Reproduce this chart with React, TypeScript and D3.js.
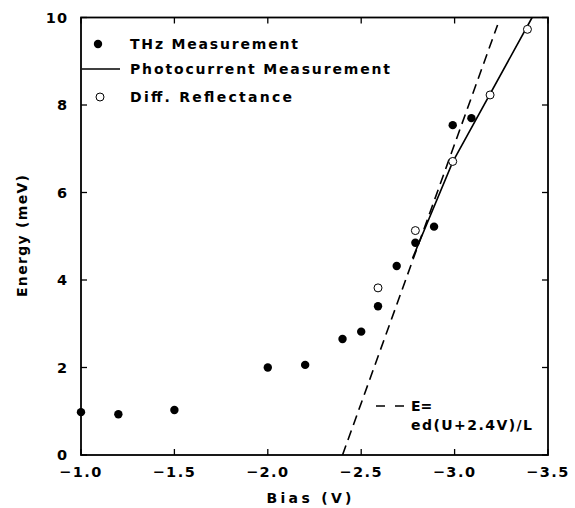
import React from "react";
import * as d3 from "d3";

// THz measurement (filled dots)
const thzBias = [-1.0, -1.2, -1.5, -2.0, -2.2, -2.4, -2.5, -2.59, -2.69, -2.79, -2.89, -2.99, -3.09];
const thzEnergy = [0.98, 0.93, 1.03, 2.0, 2.06, 2.65, 2.82, 3.4, 4.32, 4.85, 5.22, 7.54, 7.7];

// Differential reflectance (open circles)
const drBias = [-2.59, -2.79, -2.99, -3.19, -3.39];
const drEnergy = [3.82, 5.13, 6.71, 8.23, 9.73];

// Photocurrent measurement (solid line)
const pcBias = [-2.775, -2.99, -3.415];
const pcEnergy = [4.5, 6.7, 10.0];

// Linear fit E = ed(U+2.4V)/L (dashed line)
const fitBias = [-2.4, -3.23];
const fitEnergy = [0.0, 9.83];

const xTicks = [-1.0, -1.5, -2.0, -2.5, -3.0, -3.5];
const yTicks = [0, 2, 4, 6, 8, 10];

const FONT = "'DejaVu Sans', 'Liberation Sans', Arial, sans-serif";

export default function App() {
  const W = 575, H = 508;
  const x0 = 81, x1 = 548, yTop = 17.5, yBot = 455;
  const x = d3.scaleLinear().domain([-1, -3.5]).range([x0, x1]);
  const y = d3.scaleLinear().domain([0, 10]).range([yBot, yTop]);

  const line = d3.line<[number, number]>().x(d => x(d[0])).y(d => y(d[1]));
  const pc = line(pcBias.map((b, i) => [b, pcEnergy[i]] as [number, number])) || "";
  const fit = line(fitBias.map((b, i) => [b, fitEnergy[i]] as [number, number])) || "";

  const tickLen = 6;
  const textStyle = { fontFamily: FONT, fontWeight: 700, fill: "#000" } as const;

  return (
    <svg width={W} height={H} style={{ position: "absolute", left: 0, top: 0, background: "#fff" }}>
      <rect x={0} y={0} width={W} height={H} fill="#fff" />
      <defs>
        <clipPath id="plotclip">
          <rect x={x0} y={yTop} width={x1 - x0} height={yBot - yTop} />
        </clipPath>
      </defs>

      {/* frame */}
      <rect x={x0} y={yTop} width={x1 - x0} height={yBot - yTop} fill="none" stroke="#000" strokeWidth={1.8} />

      {/* x ticks */}
      {xTicks.map(t => (
        <g key={"xt" + t}>
          <line x1={x(t)} x2={x(t)} y1={yBot} y2={yBot - tickLen} stroke="#000" strokeWidth={1.3} />
          <line x1={x(t)} x2={x(t)} y1={yTop} y2={yTop + tickLen} stroke="#000" strokeWidth={1.3} />
          <text x={x(t)} y={477} textAnchor="middle" fontSize={14.5} letterSpacing={1.5} style={textStyle}>
            {"\u2212" + Math.abs(t).toFixed(1)}
          </text>
        </g>
      ))}

      {/* y ticks */}
      {yTicks.map(t => (
        <g key={"yt" + t}>
          <line x1={x0} x2={x0 + tickLen} y1={y(t)} y2={y(t)} stroke="#000" strokeWidth={1.3} />
          <line x1={x1} x2={x1 - tickLen} y1={y(t)} y2={y(t)} stroke="#000" strokeWidth={1.3} />
          <text x={68} y={y(t) + 5} textAnchor="end" fontSize={14.5} letterSpacing={1} style={textStyle}>
            {t}
          </text>
        </g>
      ))}

      {/* axis titles */}
      <text x={309} y={503} textAnchor="middle" fontSize={14} textLength={85} lengthAdjust="spacing" style={textStyle}>
        Bias (V)
      </text>
      <text
        transform={`translate(27,236) rotate(-90)`}
        textAnchor="middle"
        fontSize={14}
        textLength={122}
        lengthAdjust="spacing"
        style={textStyle}
      >
        Energy (meV)
      </text>

      <g clipPath="url(#plotclip)">
        {/* fit dashed */}
        <path d={fit} fill="none" stroke="#000" strokeWidth={1.6} strokeDasharray="10,6" />
        {/* photocurrent */}
        <path d={pc} fill="none" stroke="#000" strokeWidth={1.6} />
      </g>
      {/* THz */}
      {thzBias.map((b, i) => (
        <circle key={"t" + i} cx={x(b)} cy={y(thzEnergy[i])} r={4.2} fill="#000" />
      ))}
      {/* DR */}
      {drBias.map((b, i) => (
        <circle key={"d" + i} cx={x(b)} cy={y(drEnergy[i])} r={4} fill="#fff" stroke="#000" strokeWidth={1} />
      ))}

      {/* legend */}
      <circle cx={98} cy={44} r={4.2} fill="#000" />
      <text x={130} y={49} fontSize={14} textLength={168} lengthAdjust="spacing" style={textStyle}>
        THz Measurement
      </text>
      <line x1={82} x2={120} y1={69} y2={69} stroke="#000" strokeWidth={1.4} />
      <text x={130} y={74} fontSize={14} textLength={260} lengthAdjust="spacing" style={textStyle}>
        Photocurrent Measurement
      </text>
      <circle cx={100} cy={97} r={4} fill="#fff" stroke="#000" strokeWidth={1} />
      <text x={130} y={102} fontSize={14} textLength={162} lengthAdjust="spacing" style={textStyle}>
        Diff. Reflectance
      </text>

      <line x1={376} x2={404} y1={406} y2={406} stroke="#000" strokeWidth={1.5} strokeDasharray="9,10" />
      <text x={411} y={411} fontSize={14} style={textStyle}>
        E=
      </text>
      <text x={411} y={430} fontSize={14} textLength={121} lengthAdjust="spacing" style={textStyle}>
        ed(U+2.4V)/L
      </text>
    </svg>
  );
}
